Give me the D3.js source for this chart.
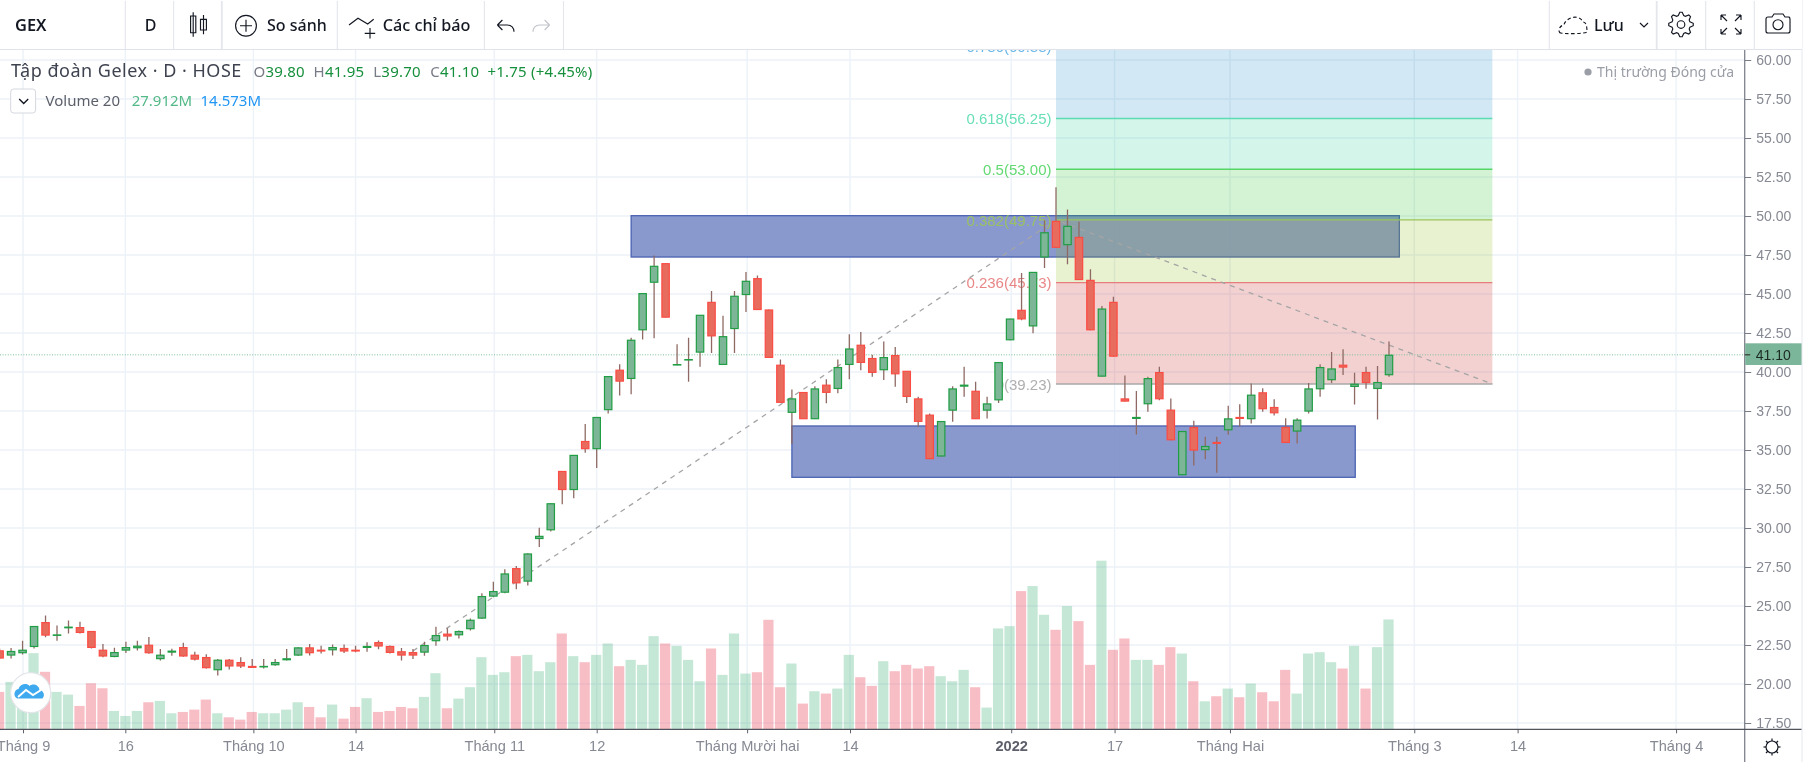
<!DOCTYPE html>
<html lang="vi">
<head>
<meta charset="utf-8">
<title>GEX</title>
<script src="https://cdn.jsdelivr.net/npm/d3@7/dist/d3.min.js"></script>
<style>
html,body{margin:0;padding:0;background:#fff;overflow:hidden}
svg{display:block;font-family:"Noto Sans","Liberation Sans",sans-serif;filter:blur(.35px)}
</style>
</head>
<body>
<svg id="chart" width="1810" height="762"></svg>
<script>
const symbol = "GEX";
const legendTitle = "Tập đoàn Gelex · D · HOSE";
const lastOHLC = [["O","39.80"],["H","41.95"],["L","39.70"],["C","41.10"]];
const lastChange = "+1.75 (+4.45%)";
const lastClose = 41.10;

const opens = [22.15,21.83,21.98,22.38,23.96,23.11,23.58,23.64,23.39,22.19,21.74,22.15,22.30,22.51,21.60,22.02,22.36,21.87,21.72,20.89,21.55,21.40,21.15,21.08,21.21,21.53,21.83,22.34,22.19,22.17,22.30,22.19,22.32,22.68,22.43,22.09,22.04,22.02,22.75,23.22,23.13,23.52,24.20,25.61,25.86,27.42,26.57,29.30,29.86,33.65,32.44,35.57,35.06,37.56,40.14,39.56,42.68,45.73,46.97,40.44,40.76,41.25,44.49,40.46,42.76,44.94,46.01,44.00,40.46,37.39,38.71,36.98,39.18,38.92,40.46,41.74,40.89,40.12,41.08,40.07,38.30,37.26,34.59,37.53,39.07,38.79,37.53,38.19,42.04,43.98,42.93,47.35,49.68,48.14,48.65,45.90,39.71,44.49,38.30,37.00,37.94,39.99,37.58,33.39,36.47,35.00,35.51,36.27,37.11,36.98,38.69,37.75,36.47,36.19,37.47,38.90,39.48,40.46,39.05,39.99,38.92,39.80];
const highs = [22.27,22.30,22.77,23.71,24.39,23.75,24.07,23.99,23.39,22.56,22.32,22.71,22.77,23.02,22.24,22.26,22.64,22.07,21.91,21.60,21.60,21.72,21.60,21.60,21.60,22.24,22.36,22.56,22.45,22.54,22.54,22.45,22.68,22.79,22.47,22.30,22.24,22.71,23.67,23.58,23.43,24.20,25.82,26.55,27.36,27.57,28.38,30.01,31.58,33.65,34.68,36.66,37.11,39.73,40.50,42.19,45.05,47.46,46.97,41.78,42.19,43.66,45.20,43.60,45.20,46.41,46.18,44.00,40.80,38.88,38.71,39.09,39.54,40.80,42.42,42.57,41.10,41.95,41.61,40.07,38.41,37.34,36.85,39.09,40.33,39.37,38.41,40.63,43.42,46.35,46.41,49.72,51.85,50.42,49.63,46.58,44.23,44.83,39.77,38.79,39.69,40.33,38.30,36.21,36.87,35.85,35.85,37.83,37.94,39.26,38.96,38.26,37.04,37.04,39.30,40.50,41.29,41.46,39.95,40.33,40.39,41.95];
const lows = [21.60,21.64,21.89,22.28,23.00,22.77,23.24,23.24,22.28,21.72,21.72,21.98,22.15,21.94,21.51,21.81,21.74,21.51,21.00,20.55,20.93,21.02,21.02,21.00,21.17,21.51,21.79,21.83,21.96,21.83,21.98,22.04,22.07,22.22,21.96,21.51,21.60,21.81,22.45,22.79,22.92,23.43,24.16,25.56,25.82,26.08,26.31,28.79,29.77,31.52,31.90,34.82,33.84,37.34,38.50,38.58,42.08,42.17,43.49,40.44,39.37,40.33,41.21,40.46,41.21,43.85,43.98,40.91,38.03,35.38,36.98,36.98,38.00,38.64,39.54,40.12,39.69,39.48,39.05,38.02,36.49,34.42,34.59,36.81,38.41,36.98,37.02,38.02,42.04,43.32,42.48,46.67,47.97,46.90,45.90,42.68,39.71,40.99,38.11,36.00,37.45,38.19,35.63,33.39,34.01,34.40,33.54,35.98,36.49,36.70,37.45,37.21,35.46,35.42,37.34,38.41,39.30,39.80,37.92,38.92,36.96,39.70];
const closes = [21.64,22.11,22.19,23.71,23.11,23.17,23.67,23.28,22.32,21.77,22.04,22.36,22.45,21.98,21.87,22.13,21.77,21.57,21.02,21.55,21.13,21.13,21.04,21.15,21.40,21.64,22.34,21.98,22.09,22.36,22.09,22.09,22.43,22.41,22.00,21.83,21.83,22.49,23.13,23.05,23.39,24.11,25.63,25.95,27.08,26.46,28.36,29.49,31.58,32.44,34.68,35.06,37.11,39.73,39.39,42.06,45.05,46.80,43.49,40.50,40.82,43.66,42.29,42.29,44.88,45.84,43.98,40.91,38.03,38.30,36.98,38.94,38.67,40.31,41.50,40.59,39.95,40.95,39.86,38.41,36.81,34.42,36.85,38.94,39.18,36.98,37.98,40.63,43.42,43.38,46.41,48.95,47.97,49.36,45.90,42.68,44.06,40.99,38.11,37.11,39.60,38.26,35.63,36.21,34.97,35.25,35.40,37.02,37.00,38.54,37.62,37.36,35.46,36.94,38.94,40.31,40.22,40.29,39.24,39.30,39.35,41.10];
const volumes = [9.5,12.04,10.4,19.34,14.6,9.5,8.82,5.94,11.7,10.43,4.66,3.39,4.66,6.87,7.21,4.07,4.41,5.0,7.55,4.07,3.05,2.46,4.41,4.07,4.07,5.0,6.87,5.68,3.05,6.28,2.71,5.68,7.89,4.41,4.66,5.68,5.34,8.23,14.25,5.34,7.8,10.69,18.32,13.83,14.5,18.58,18.91,14.76,17.05,24.34,18.58,17.05,18.91,21.8,16.03,17.64,16.37,23.66,21.8,21.2,17.64,12.21,20.53,13.83,24.34,14.16,14.5,27.82,10.69,16.71,6.53,9.67,9.08,10.35,18.91,13.23,11.03,17.3,14.76,16.37,15.44,16.03,13.49,12.21,15.1,10.69,5.51,25.62,26.21,35.11,36.39,29.09,25.28,31.3,27.48,16.37,42.83,20.19,23.07,17.64,17.64,16.37,20.87,19.25,12.21,7.12,8.4,10.35,8.14,11.62,9.41,7.12,15.1,9.08,19.25,19.59,17.05,15.44,21.2,10.35,20.87,27.91];

const priceTicks = [17.5,20,22.5,25,27.5,30,32.5,35,37.5,40,42.5,45,47.5,50,52.5,55,57.5,60];
const timeTickBars = [2.04,10.95,22.1,31.0,43.08,52.0,65.1,74.06,88.1,97.1,107.15,123.2,132.2,146.0];
const timeTickLabels = ["Tháng 9","16","Tháng 10","14","Tháng 11","12","Tháng Mười hai","14","2022","17","Tháng Hai","Tháng 3","14","Tháng 4"];

const zoneBars = [[55,121.9],[69,118.06]];
const zonePrices = [[50.02,47.37],[36.54,33.25]];
const fibRatios = [0.786,0.618,0.5,0.382,0.236,0];
const fibPrices = [60.88,56.25,53.00,49.75,45.73,39.23];
const fibColors = ["#5bb0e4","#5cdcb2","#55d666","#9cc45c","#e77c7c","#a8a8a8"];
const fibBandUpper = [66.77,56.25,53.00,49.75,45.73];
const fibBandLower = [56.25,53.00,49.75,45.73,39.23];
const fibFills = ["rgba(30,140,200,.2)","rgba(40,205,150,.2)","rgba(40,195,40,.2)","rgba(140,185,20,.2)","rgba(200,25,25,.2)"];
const fibBars = [92,130];
const trendBars = [36,92,130];
const trendPrices = [22.12,49.75,39.23];

const W = 1810, H = 762, paneRight = 1744.7, paneTop = 49.5, paneBottom = 729.3, chartRight = 1802;
const x = d3.scaleLinear().domain([0,121]).range([-0.4,1389]);
const y = d3.scaleLinear().domain([17.5,60]).range([723,60]);
const yv = d3.scaleLinear().domain([0,42.83]).range([paneBottom,560.7]);
const svg = d3.select("#chart");
const gridColor = "#ecf2f8", axisText = "#868993", upFill="#7db597", upStroke="#1f9e43", dnFill="#e86c5d", dnStroke="#fb4c44", wick="#8f6a64";

svg.append("rect").attr("width",W).attr("height",H).attr("fill","#fff");
svg.append("defs").append("clipPath").attr("id","pane").append("rect")
  .attr("x",0).attr("y",paneTop).attr("width",paneRight).attr("height",paneBottom-paneTop);

const pane = svg.append("g").attr("clip-path","url(#pane)");
// grid
pane.append("g").selectAll("line").data(priceTicks).join("line")
  .attr("x1",0).attr("x2",paneRight).attr("y1",d=>y(d)).attr("y2",d=>y(d))
  .attr("stroke",gridColor).attr("stroke-width",1.4);
pane.append("g").selectAll("line").data(timeTickBars).join("line")
  .attr("x1",d=>x(d)).attr("x2",d=>x(d)).attr("y1",paneTop).attr("y2",paneBottom)
  .attr("stroke",gridColor).attr("stroke-width",1.4);
// volume
pane.append("g").selectAll("rect").data(volumes).join("rect")
  .attr("x",(d,i)=>x(i)-5.6).attr("width",10.2)
  .attr("y",d=>yv(d)).attr("height",d=>paneBottom-yv(d))
  .attr("fill",(d,i)=>closes[i]>=opens[i]?"rgba(83,185,135,.34)":"rgba(237,92,110,.40)");
// zones
pane.append("g").selectAll("rect").data(zoneBars).join("rect")
  .attr("x",d=>x(d[0])).attr("width",d=>x(d[1])-x(d[0]))
  .attr("y",(d,i)=>y(zonePrices[i][0])).attr("height",(d,i)=>y(zonePrices[i][1])-y(zonePrices[i][0]))
  .attr("fill","rgba(122,139,198,.88)").attr("stroke","#4a62b2").attr("stroke-width",1.3);
// fibonacci
const fibG = pane.append("g");
fibG.selectAll("rect").data(fibFills).join("rect")
  .attr("x",x(fibBars[0])).attr("width",x(fibBars[1])-x(fibBars[0]))
  .attr("y",(d,i)=>y(fibBandUpper[i])).attr("height",(d,i)=>y(fibBandLower[i])-y(fibBandUpper[i]))
  .attr("fill",d=>d);
fibG.selectAll("line").data(fibPrices).join("line")
  .attr("x1",x(fibBars[0])).attr("x2",x(fibBars[1]))
  .attr("y1",d=>y(d)).attr("y2",d=>y(d))
  .attr("stroke",(d,i)=>fibColors[i]).attr("stroke-width",1.4);
fibG.selectAll("text").data(fibPrices).join("text")
  .attr("x",x(fibBars[0])-4.5).attr("y",d=>y(d)+5.8).attr("text-anchor","end")
  .attr("font-size",15).attr("font-family","'Liberation Sans'").attr("fill",(d,i)=>fibColors[i])
  .attr("opacity",.92)
  .text((d,i)=>`${fibRatios[i]}(${d.toFixed(2)})`);
// trend dashed
pane.append("path")
  .attr("d",d3.line().x(d=>x(d)).y((d,i)=>y(trendPrices[i]))(trendBars))
  .attr("fill","none").attr("stroke","#a5a5a5").attr("stroke-width",1.3).attr("stroke-dasharray","5,5");
// last price line
pane.append("line").attr("x1",0).attr("x2",paneRight).attr("y1",y(lastClose)).attr("y2",y(lastClose))
  .attr("stroke","#7cc09c").attr("stroke-width",1).attr("stroke-dasharray","1,1.6");
// candles
const candles = pane.append("g").selectAll("g").data(closes).join("g");
candles.append("line").attr("x1",(d,i)=>x(i)).attr("x2",(d,i)=>x(i))
  .attr("y1",(d,i)=>y(highs[i])).attr("y2",(d,i)=>y(lows[i]))
  .attr("stroke",wick).attr("stroke-width",1.3);
candles.append("rect").attr("x",(d,i)=>x(i)-3.7).attr("width",7.4)
  .attr("y",(d,i)=>y(Math.max(opens[i],closes[i]))+.4)
  .attr("height",(d,i)=>Math.max(.4,Math.abs(y(opens[i])-y(closes[i]))-.8))
  .attr("fill",(d,i)=>closes[i]>=opens[i]?upFill:dnFill)
  .attr("stroke",(d,i)=>closes[i]>=opens[i]?upStroke:dnStroke).attr("stroke-width",1.2);

// status
const st = svg.append("g");
st.append("circle").attr("cx",1588).attr("cy",72).attr("r",3.6).attr("fill","#9b9ea6");
st.append("text").attr("x",1597).attr("y",77).attr("font-size",14).attr("fill","#9b9ea6").text("Thị trường Đóng cửa");

// legend
const lg = svg.append("g");
lg.append("text").attr("x",11).attr("y",77).attr("font-size",18).attr("letter-spacing",.5).attr("fill","#3f4350").text(legendTitle);
const ohlcX = [253.5,313.6,373.3,430.2];
lastOHLC.forEach((p,i)=>{
  const t = lg.append("text").attr("x",ohlcX[i]).attr("y",76.5).attr("font-size",15).attr("letter-spacing",.2).attr("fill","#168f3c");
  t.append("tspan").attr("fill","#787b86").text(p[0]);
  t.append("tspan").text(p[1]);
});
lg.append("text").attr("x",487.5).attr("y",76.5).attr("font-size",15).attr("letter-spacing",.2).attr("fill","#168f3c").text(lastChange);
lg.append("rect").attr("x",10.7).attr("y",89).attr("width",24.9).attr("height",24).attr("rx",3).attr("fill","#fff").attr("stroke","#d6d8de");
lg.append("path").attr("d","M19.2 99l4.5 4.5 4.5-4.5").attr("fill","none").attr("stroke","#131722").attr("stroke-width",1.4);
lg.append("text").attr("x",45.5).attr("y",106).attr("font-size",15).attr("fill","#5d606b").text("Volume 20");
lg.append("text").attr("x",131.7).attr("y",106).attr("font-size",15).attr("fill","#53b987").text("27.912M");
lg.append("text").attr("x",200.5).attr("y",106).attr("font-size",15).attr("fill","#2196f3").text("14.573M");

// logo
const logo = svg.append("g");
logo.append("circle").attr("cx",30.7).attr("cy",692.7).attr("r",20).attr("fill","#fff").attr("stroke","#e3e5ea").attr("stroke-width",1.2);
logo.append("path").attr("d","M17.5 698.5a5 5 0 0 1 1-9.5c1.5-5 8-6.5 11-3 3-3 9.5-1.5 10 4a5 5 0 0 1 3 8.5z").attr("fill","#3fa9f0");
logo.append("path").attr("d","M18 697l8-7 7 5 8-5").attr("fill","none").attr("stroke","#fff").attr("stroke-width",2);

// right axis
const yAxis = d3.axisRight(y).tickValues(priceTicks).tickFormat(d3.format(".2f")).tickSize(6.5).tickPadding(5);
const yg = svg.append("g").attr("transform",`translate(${paneRight},0)`).call(yAxis);
yg.select(".domain").remove();
yg.selectAll("line").attr("stroke","#787b86").attr("stroke-width",1);
yg.selectAll("text").attr("fill",axisText).attr("font-size",14).attr("font-family","'Liberation Sans'");
svg.append("line").attr("x1",paneRight).attr("x2",paneRight).attr("y1",paneTop).attr("y2",H).attr("stroke","#7f828c").attr("stroke-width",1.3);
// last-price label
svg.append("rect").attr("x",paneRight+.5).attr("y",343.3).attr("width",chartRight-paneRight-.5).attr("height",21.7).attr("fill","#7cb69a");
svg.append("line").attr("x1",paneRight).attr("x2",paneRight+5.5).attr("y1",y(lastClose)).attr("y2",y(lastClose)).attr("stroke","#222");
svg.append("text").attr("x",paneRight+11).attr("y",y(lastClose)+5).attr("font-size",14).attr("font-family","'Liberation Sans'").attr("fill","#1c2a24").text(d3.format(".2f")(lastClose));

// bottom axis
const xAxis = d3.axisBottom(x).tickValues(timeTickBars).tickFormat((d,i)=>timeTickLabels[i]).tickSize(4).tickPadding(7);
const xg = svg.append("g").attr("transform",`translate(0,${paneBottom})`).call(xAxis);
xg.select(".domain").remove();
xg.selectAll("line").attr("stroke","#5d606b").attr("stroke-width",1);
xg.selectAll("text").attr("font-size",14.6)
  .attr("font-weight",(d,i)=>timeTickLabels[i]==="2022"?700:400)
  .attr("fill",(d,i)=>timeTickLabels[i]==="2022"?"#5d606b":axisText);
svg.append("line").attr("x1",0).attr("x2",chartRight).attr("y1",paneBottom).attr("y2",paneBottom).attr("stroke","#50535e").attr("stroke-width",1.2);
svg.append("line").attr("x1",chartRight).attr("x2",chartRight).attr("y1",0).attr("y2",H).attr("stroke","#e6e8ee").attr("stroke-width",1);

// bottom settings icon
const sun = svg.append("g").attr("fill","none").attr("stroke","#131722").attr("stroke-width",1.2);
sun.append("circle").attr("cx",1772).attr("cy",747).attr("r",6);
d3.range(8).forEach(k=>{const a=k/8*2*Math.PI;
  sun.append("line").attr("x1",1772+6*Math.cos(a)).attr("y1",747+6*Math.sin(a)).attr("x2",1772+8.5*Math.cos(a)).attr("y2",747+8.5*Math.sin(a));});

// toolbar
const tb = svg.append("g");
tb.append("rect").attr("width",chartRight).attr("height",49).attr("fill","#fff");
tb.append("line").attr("x1",0).attr("x2",chartRight).attr("y1",49.5).attr("y2",49.5).attr("stroke","#e0e3eb").attr("stroke-width",1.2);
[125.3,173.6,221.8,337.3,484.4,563.5,1549.3,1656.7,1705.7,1754.3].forEach(sx=>{
  tb.append("line").attr("x1",sx).attr("x2",sx).attr("y1",1).attr("y2",49).attr("stroke","#e4e6ec").attr("stroke-width",sx===221.8||sx===1656.7?1.8:1.1);
});
const tbt=(tx,s,fs,fw)=>tb.append("text").attr("x",tx).attr("y",30.5).attr("font-size",fs).attr("font-weight",fw||400).attr("fill","#131722").text(s);
tbt(15,symbol,16.4,600); tbt(144.7,"D",16,500); tbt(267,"So sánh",16,500); tbt(382.8,"Các chỉ báo",16.2,500); tbt(1594,"Lưu",16,500);
const ic = tb.append("g").attr("fill","none").attr("stroke","#131722").attr("stroke-width",1.15);
ic.append("path").attr("d","M193.2 12.3v24.4M190.6 16h5.2v16.7h-5.200zM203.5 15v19.3M200.5 19.3h5.900v10.700h-5.900z");
ic.append("circle").attr("cx",246).attr("cy",25.7).attr("r",10.4);
ic.append("path").attr("d","M246 19.7v12M240 25.7h12");
ic.append("path").attr("d","M349 25l9-6.700 9.700 5.700 6-4.700M370 28v10.500M364.700 33.300h10.500");
ic.append("path").attr("d","M497.400 25h10c4 0 6.600 3 6.600 6.700M497.400 25l5-5M497.400 25l5 5");
ic.append("path").attr("d","M549.600 25h-10c-4 0-6.600 3-6.600 6.700M549.600 25l-5-5M549.600 25l-5 5").attr("stroke","#c2c4ca");
ic.append("path").attr("d","M1561 33c-3 0-3-7 3-8 1-7 15-12 19-3 3 0 4 4 4 10-3 2-22 2-26 1z").attr("stroke-dasharray","3.5,2.5");
ic.append("path").attr("d","M1640 23l4 4 4-4");
// gear outline built from alternating radii
const gearTeeth = 8;
const gearPts = d3.range(gearTeeth*4).map(k=>{
  const a=(k-0.5)/(gearTeeth*4)*2*Math.PI, r=(k%4<2)?12.3:9.3;
  return [1681+r*Math.cos(a),24.5+r*Math.sin(a)];
});
ic.append("path").attr("d",d3.line().curve(d3.curveLinearClosed)(gearPts));
ic.append("circle").attr("cx",1681).attr("cy",24.5).attr("r",3.8);
ic.append("path").attr("d","M1721 15h5M1721 15v5M1721 15l6 6M1741 15h-5M1741 15v5M1741 15l-6 6M1721 34h5M1721 34v-5M1721 34l6-6M1741 34h-5M1741 34v-5M1741 34l-6-6");
ic.append("path").attr("d","M1768 17h4l2-3h9l2 3h4a3 3 0 0 1 1 2v12a2 2 0 0 1-2 2h-20a2 2 0 0 1-2-2v-12a2 2 0 0 1 2-2z");
ic.append("circle").attr("cx",1778).attr("cy",24.7).attr("r",5);
</script>
</body>
</html>
